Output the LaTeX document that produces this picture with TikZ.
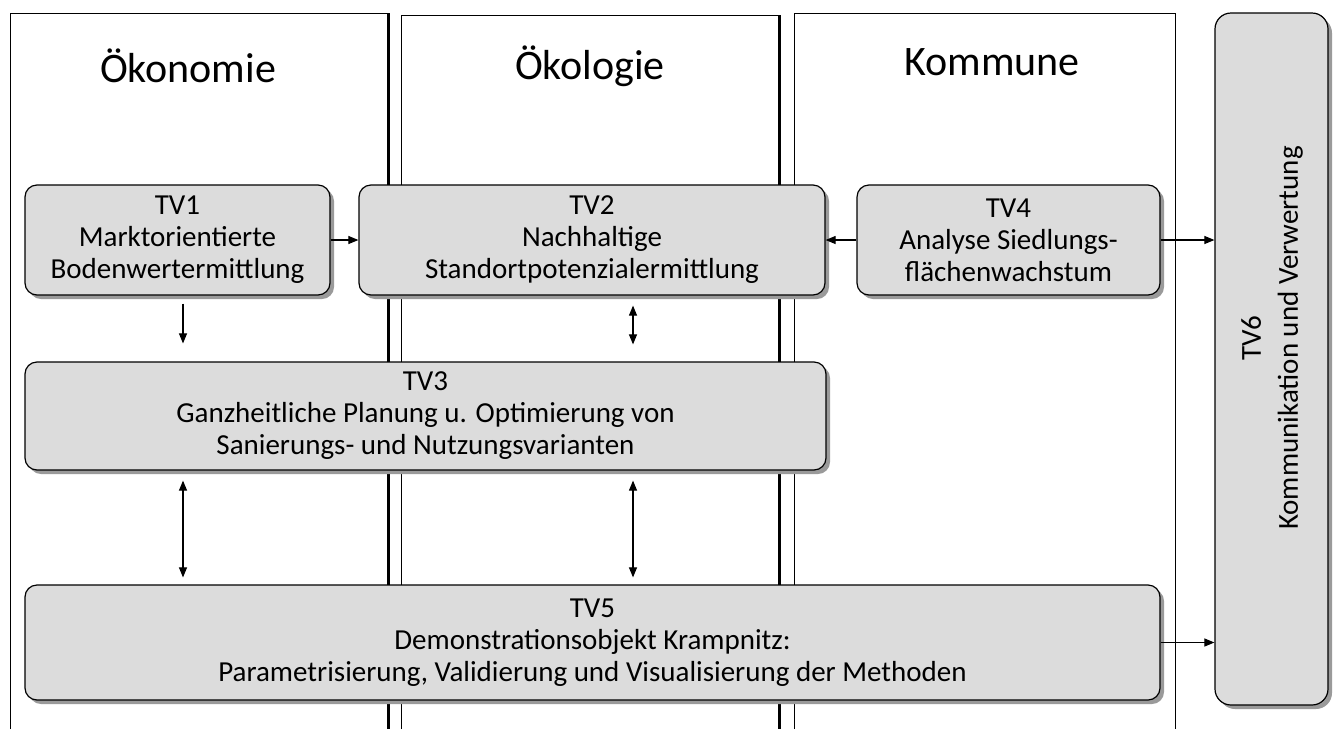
\documentclass[tikz,border=0pt]{standalone}
\usepackage{fontspec}
\setmainfont{Carlito}
\usetikzlibrary{shadows,arrows.meta,calc}
\definecolor{boxfill}{HTML}{DCDCDC}
\definecolor{shadowgray}{HTML}{9A9A9A}
\begin{document}
\begin{tikzpicture}[x=1pt,y=-1pt,
  tv/.style={draw=black, line width=1.2pt, fill=boxfill, rounded corners=12pt,
    align=center, inner sep=0pt, font=\fontsize{29}{32}\selectfont,
    drop shadow={shadow xshift=4pt, shadow yshift=-4pt, fill=shadowgray, opacity=1}},
  arr/.style={line width=1.1pt, -{Triangle[length=10pt,width=8pt]}},
  darr/.style={line width=1.1pt, {Triangle[length=10pt,width=8pt]}-{Triangle[length=10pt,width=8pt]}},
  coltitle/.style={font=\fontsize{42}{46}\selectfont, inner sep=0pt},
  colline/.style={line width=1pt},
  colshade/.style={line width=2.5pt}]
\useasboundingbox (0,0) rectangle (1336,729);
% columns
\draw[colline] (10,729) -- (10,13) -- (389,13) -- (389,729);
\draw[colshade] (388,13) -- (388,729);
\draw[colline] (401,729) -- (401,15) -- (780,15) -- (780,729);
\draw[colshade] (779,15) -- (779,729);
\draw[colline] (794,729) -- (794,13) -- (1175,13) -- (1175,729);
% titles
\node[coltitle] (t1) at (188,66) {Ökonomie};
\node[coltitle] (t2) at (590,66) {Ökologie};
\node[coltitle] (t3) at (992,62) {Kommune};
% boxes
\node[tv, minimum width=305pt, minimum height=110pt] (tv1) at (177.5,240)
  {TV1\\Marktorientierte\\Bodenwertermittlung};
\node[tv, minimum width=466pt, minimum height=110pt] (tv2) at (592,240)
  {TV2\\Nachhaltige\\Standortpotenzialermittlung};
\node[tv, minimum width=303pt, minimum height=110pt] (tv4) at (1008.5,240)
  {TV4\\Analyse Siedlungs-\\flächenwachstum};
\node[tv, minimum width=801pt, minimum height=108pt] (tv3) at (425.5,416)
  {TV3\\Ganzheitliche Planung u. Optimierung von\\Sanierungs- und Nutzungsvarianten};
\node[tv, minimum width=1135pt, minimum height=115pt] (tv5) at (592.5,642.5)
  {TV5\\Demonstrationsobjekt Krampnitz:\\Parametrisierung, Validierung und Visualisierung der Methoden};
\node[tv, rounded corners=16pt, minimum width=113pt, minimum height=692pt] (tv6) at (1271.5,359) {};
\node[rotate=90, align=center, inner sep=0pt, font=\fontsize{29}{37}\selectfont] (tv6t) at (1272,338)
  {TV6\\Kommunikation und Verwertung};
% connectors
\coordinate (a1) at (183,0);
\coordinate (a2) at (633,0);
\draw[arr] (tv1.east) -- (tv2.west);
\draw[arr] (tv4.west) -- (tv2.east);
\draw[arr] (tv4.east) -- (tv6.west |- tv4.east);
\draw[arr] (tv5.east) -- (tv6.west |- tv5.east);
\draw[arr, shorten <=8pt, shorten >=18pt] (tv1.south -| a1) -- (tv3.north -| a1);
\draw[darr, shorten <=10pt, shorten >=17pt] (tv2.south -| a2) -- (tv3.north -| a2);
\draw[darr, shorten <=10pt, shorten >=7pt] (tv3.south -| a1) -- (tv5.north -| a1);
\draw[darr, shorten <=10pt, shorten >=7pt] (tv3.south -| a2) -- (tv5.north -| a2);
\end{tikzpicture}
\end{document}
